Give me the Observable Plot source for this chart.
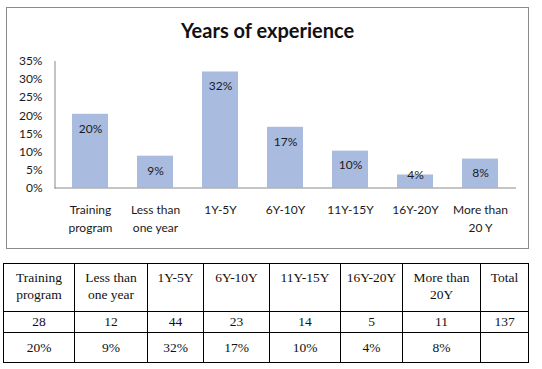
<!DOCTYPE html>
<html>
<head>
<meta charset="utf-8">
<script src="https://cdn.jsdelivr.net/npm/d3@7"></script>
<script src="https://cdn.jsdelivr.net/npm/@observablehq/plot@0.6"></script>
<style>
  html, body { margin: 0; padding: 0; background: #fff; }
  body { position: relative; width: 542px; height: 369px; overflow: hidden; }
  #box { position: absolute; left: 6px; top: 7px; width: 521px; height: 240px; border: 1px solid #8a8a8a; }
  #title { position: absolute; left: 6px; top: 18px; width: 523px; text-align: center;
           font-family: Lato, sans-serif; font-weight: bold; font-size: 20px; line-height: 24px; color: #111; }
  #chart { position: absolute; left: 0; top: 0; }
  #tbl { position: absolute; left: 3px; top: 263px; border-collapse: collapse; table-layout: fixed;
         font-family: "Liberation Serif", "Times New Roman", serif; font-size: 13.5px; color: #111; }
  #tbl td { border: 1px solid #000; text-align: center; padding: 0; overflow: hidden; white-space: nowrap; }
  #tbl tr.h td { height: 42px; vertical-align: top; line-height: 17px; padding-top: 5px; }
  #tbl tr.n td { height: 20px; line-height: 20px; }
  #tbl tr.p td { height: 29px; line-height: 29px; }
</style>
</head>
<body>
<div id="box"></div>
<div id="title">Years of experience</div>
<div id="chart"></div>
<table id="tbl"></table>
<script>
const categories = ["Training\nprogram", "Less than\none year", "1Y-5Y", "6Y-10Y", "11Y-15Y", "16Y-20Y", "More than\n20 Y"];
const percents = [20.4, 8.8, 32.1, 16.8, 10.2, 3.6, 8.0];
const percentLabels = ["20%", "9%", "32%", "17%", "10%", "4%", "8%"];
const yTicks = [0, 5, 10, 15, 20, 25, 30, 35];

const tableHeaders = ["Training<br>program", "Less than<br>one year", "1Y-5Y", "6Y-10Y", "11Y-15Y", "16Y-20Y", "More than<br>20Y", "Total"];
const counts = [28, 12, 44, 23, 14, 5, 11];
const total = 137;
const tablePercents = ["20%", "9%", "32%", "17%", "10%", "4%", "8%", ""];
const colWidths = [71, 73, 56, 66, 71, 62, 78, 48];

const data = categories.map((c, i) => ({cat: c, pct: percents[i], label: percentLabels[i]}));

const chart = Plot.plot({
  width: 542,
  height: 255,
  marginLeft: 54.5,
  marginRight: 26,
  marginTop: 61,
  marginBottom: 67.5,
  style: {fontFamily: "Lato, sans-serif", fontSize: "12px", color: "#1a1a1a", background: "transparent", overflow: "visible"},
  x: {domain: categories, paddingInner: 0.44, paddingOuter: 0.22, label: null},
  y: {domain: [0, 35], label: null},
  marks: [
    Plot.barY(data, {x: "cat", y: "pct", fill: "#A9BCE0"}),
    Plot.frame({anchor: "left", stroke: "#8a8a8a"}),
    Plot.ruleY([0], {stroke: "#8a8a8a"}),
    Plot.axisY({ticks: yTicks, tickFormat: d => d + "%", tickSize: 0, tickPadding: 12.5, label: null, fontSize: 12}),
    Plot.axisX({tickSize: 0, tickPadding: 13, lineHeight: 1.5, label: null, fontSize: 12}),
    Plot.text(data.filter(d => d.pct >= 5), {x: "cat", y: "pct", text: "label", dy: 14.5, fontSize: 12}),
    Plot.text(data.filter(d => d.pct < 5), {x: "cat", y: "pct", text: "label", dy: 0, fontSize: 12})
  ]
});
document.getElementById("chart").appendChild(chart);

const tbl = document.getElementById("tbl");
tbl.style.width = colWidths.reduce((a, b) => a + b, 0) + "px";
const cg = document.createElement("colgroup");
colWidths.forEach(w => { const c = document.createElement("col"); c.style.width = w + "px"; cg.appendChild(c); });
tbl.appendChild(cg);
function row(cls, cells, html) {
  const tr = document.createElement("tr");
  tr.className = cls;
  cells.forEach(v => { const td = document.createElement("td"); if (html) td.innerHTML = v; else td.textContent = v; tr.appendChild(td); });
  tbl.appendChild(tr);
}
row("h", tableHeaders, true);
row("n", [...counts, total].map(String), false);
row("p", tablePercents, false);
</script>
</body>
</html>
